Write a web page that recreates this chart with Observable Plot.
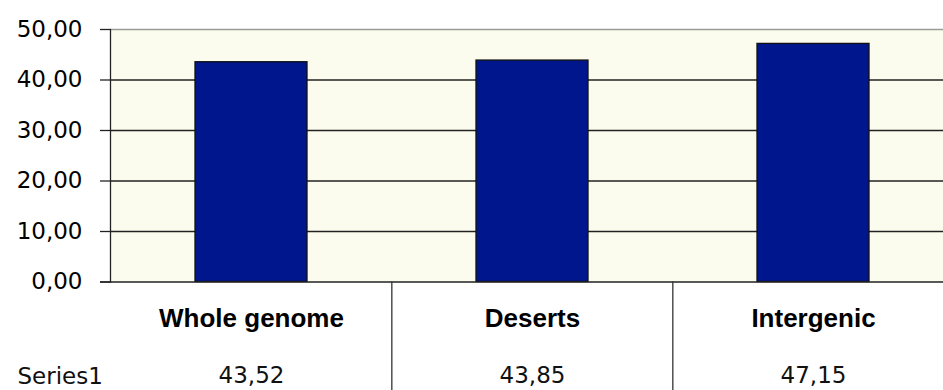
<!DOCTYPE html>
<html>
<head>
<meta charset="utf-8">
<script src="https://cdn.jsdelivr.net/npm/d3@7"></script>
<script src="https://cdn.jsdelivr.net/npm/@observablehq/plot@0.6"></script>
<style>
  html, body { margin: 0; padding: 0; background: #fff; }
</style>
</head>
<body>
<div id="chart"></div>
<script>
// GC content per region type
const categories = ["Whole genome", "Deserts", "Intergenic"];
const values = [43.52, 43.85, 47.15];
const yTicks = [0, 10, 20, 30, 40, 50];
const seriesName = "Series1";

const rows = categories.map((category, i) => ({category, value: values[i]}));

const width = 943, height = 390;
const marginTop = 29, marginBottom = 108.5, marginLeft = 110, marginRight = -11;
const step = (width - marginLeft - marginRight) / categories.length;
const frameH = height - marginTop - marginBottom;
const comma = d => d.toFixed(2).replace(".", ",");

const plot = Plot.plot({
  width, height, marginTop, marginBottom, marginLeft, marginRight,
  style: {background: "#fff", overflow: "hidden"},
  x: {domain: categories, paddingInner: 0.6, paddingOuter: 0.3, axis: null},
  y: {domain: [0, 50], axis: null},
  marks: [
    // plot area background
    Plot.frame({fill: "#fcfcee", stroke: null}),
    // horizontal gridlines
    Plot.ruleY(yTicks.filter(t => t > 0 && t < 50), {stroke: "#222", strokeWidth: 1.3}),
    Plot.ruleY([50], {stroke: "#9a9a9a", strokeWidth: 1.3}),
    // bars
    Plot.barY(rows, {x: "category", y: "value", fill: "#00168c", stroke: "#111", strokeWidth: 1.3}),
    // value axis
    Plot.frame({anchor: "left", stroke: "#222", strokeWidth: 1.3}),
    Plot.ruleY([0], {stroke: "#222", strokeWidth: 1.3, insetLeft: -10}),
    Plot.axisY({
      ticks: yTicks, tickSize: 10, tickPadding: 18, tickFormat: comma, label: null,
      fontSize: 23, fontFamily: "DejaVu Sans", stroke: "#222", strokeWidth: 1.3
    }),
    // data table below the plot
    Plot.ruleX(categories.slice(1), {
      x: d => d, dx: -step / 2, insetTop: frameH, insetBottom: -marginBottom,
      stroke: "#333", strokeWidth: 1.3
    }),
    Plot.text(categories, {
      x: d => d, frameAnchor: "bottom", lineAnchor: "bottom", dy: 44.5,
      fontSize: 26, fontWeight: "bold", fontFamily: "Liberation Sans, Arial, sans-serif", fill: "#000"
    }),
    Plot.text(rows, {
      x: "category", text: d => comma(d.value), frameAnchor: "bottom", lineAnchor: "bottom", dy: 100.5,
      fontSize: 23, fontFamily: "DejaVu Sans", fill: "#111"
    }),
    Plot.text([seriesName], {
      frameAnchor: "bottom-left", textAnchor: "start", lineAnchor: "bottom", dx: -93, dy: 101.5,
      fontSize: 23, fontFamily: "DejaVu Sans", fill: "#111"
    })
  ]
});

document.getElementById("chart").appendChild(plot);
</script>
</body>
</html>
